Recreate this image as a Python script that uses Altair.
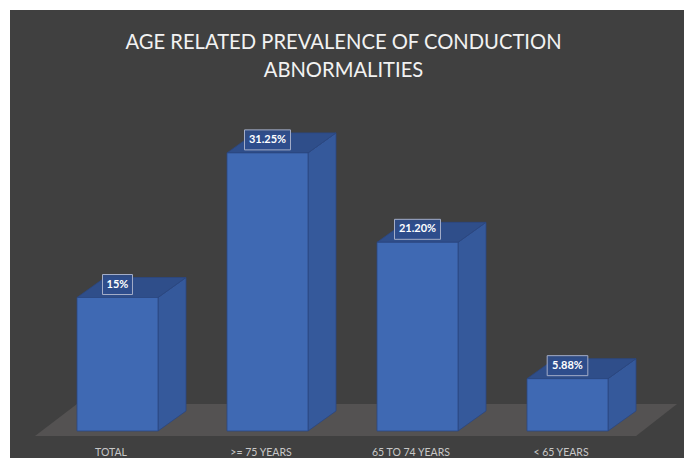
import altair as alt
import pandas as pd

# ---- data ----
categories = ["TOTAL", ">= 75 YEARS", "65 TO 74 YEARS", "< 65 YEARS"]
values = [15, 31.25, 21.20, 5.88]
value_labels = ["15%", "31.25%", "21.20%", "5.88%"]
title_lines = ["AGE RELATED PREVALENCE OF CONDUCTION", "ABNORMALITIES"]

# ---- 3D geometry constants ----
PX = 8.9          # pixels per y unit
BASE = 421        # view pixel row of value 0
VIEW_W = 674
VIEW_H = 448
HALF = 0.27       # half bar width (x units)
DX = 28 / 150     # depth offset, x units
DY = 20 / PX      # depth offset, y units
CAT_SHIFT = -6.5 / 150

idx = list(range(len(categories)))

bars = pd.DataFrame({"cat": categories, "idx": idx, "value": values, "label": value_labels})
bars["x0"] = bars["idx"] - HALF
bars["x1"] = bars["idx"] + HALF
bars["cx"] = bars["idx"] + CAT_SHIFT
bars["base"] = 0.0
bars["ly"] = bars["value"] + 13 / PX
bars["bw"] = (bars["label"].str.len() * 5.33 + 14) / 2 / 150
bars["bx0"] = bars["idx"] - bars["bw"]
bars["bx1"] = bars["idx"] + bars["bw"]
bars["by0"] = bars["ly"] - 10 / PX
bars["by1"] = bars["ly"] + 10 / PX

side_rows = []
top_rows = []
for c, i, v in zip(categories, idx, values):
    side_rows.append({"cat": c, "x": i + HALF, "lo": 0.0, "hi": v})
    side_rows.append({"cat": c, "x": i + HALF + DX, "lo": DY, "hi": v + DY})
    top_rows.append({"cat": c, "y": v, "xl": i - HALF, "xr": i + HALF})
    top_rows.append({"cat": c, "y": v + DY, "xl": i - HALF + DX, "xr": i + HALF + DX})
side = pd.DataFrame(side_rows)
top = pd.DataFrame(top_rows)

floor = pd.DataFrame({"y": [-5 / PX, 27 / PX], "xl": [-0.55, -0.27], "xr": [3.457, 3.73]})

xs = alt.Scale(domain=[-107.5 / 150, (VIEW_W - 107.5) / 150], nice=False, zero=False)
ys = alt.Scale(domain=[-(VIEW_H - BASE) / PX, BASE / PX], nice=False, zero=False)

FRONT = "#3f69b3"
SIDE = "#35599b"
TOP = "#2f4e8a"
EDGE = "#2b4680"

floor_l = alt.Chart(floor).mark_area(orient="horizontal", color="#545252").encode(
    y=alt.Y("y:Q", scale=ys, axis=None),
    x=alt.X("xl:Q", scale=xs, axis=None, stack=None),
    x2="xr:Q",
)

side_l = alt.Chart(side).mark_area(orient="vertical", color=SIDE, stroke=EDGE, strokeWidth=0.8).encode(
    x=alt.X("x:Q", scale=xs, axis=None),
    y=alt.Y("lo:Q", scale=ys, axis=None, stack=None),
    y2="hi:Q",
    detail="cat:N",
)

top_l = alt.Chart(top).mark_area(orient="horizontal", color=TOP, stroke=EDGE, strokeWidth=0.8).encode(
    y=alt.Y("y:Q", scale=ys, axis=None),
    x=alt.X("xl:Q", scale=xs, axis=None, stack=None),
    x2="xr:Q",
    detail="cat:N",
)

base = alt.Chart(bars)

front_l = base.mark_rect(color=FRONT, stroke=EDGE, strokeWidth=0.8).encode(
    x=alt.X("x0:Q", scale=xs, axis=None),
    x2="x1:Q",
    y=alt.Y("base:Q", scale=ys, axis=None),
    y2="value:Q",
)

box_l = base.mark_rect(fill="#2f4e8c", fillOpacity=0.9, stroke="#a3adc8", strokeWidth=1).encode(
    x=alt.X("bx0:Q", scale=xs, axis=None),
    x2="bx1:Q",
    y=alt.Y("by0:Q", scale=ys, axis=None),
    y2="by1:Q",
)

lbl_l = base.mark_text(font="Lato", fontSize=11, fontWeight="bold", color="#ffffff", baseline="middle").encode(
    x=alt.X("idx:Q", scale=xs, axis=None),
    y=alt.Y("ly:Q", scale=ys, axis=None),
    text="label:N",
)

cat_l = base.mark_text(font="Lato", fontSize=10.5, color="#c8c8c8", baseline="alphabetic").encode(
    x=alt.X("cx:Q", scale=xs, axis=None),
    y=alt.value(446),
    text="cat:N",
)

title_df = pd.DataFrame({"line": title_lines, "row": [0, 1]})
title_l = alt.Chart(title_df).mark_text(font="Lato", fontSize=20.2, color="#f2f2f2", baseline="alphabetic").encode(
    x=alt.value(333.5),
    y=alt.Y("row:Q", scale=alt.Scale(domain=[0, 1], range=[39, 67]), axis=None),
    text="line:N",
)

chart = alt.layer(floor_l, side_l, top_l, front_l, box_l, lbl_l, cat_l, title_l).resolve_scale(
    y="independent"
).properties(
    width=VIEW_W,
    height=VIEW_H,
    padding={"left": 2, "top": 2, "right": 0, "bottom": 0},
    autosize=alt.AutoSizeParams(type="none"),
    background="#ffffff",
).configure_view(fill="#404040", strokeWidth=0)

chart.save("out.html", embed_options={"renderer": "svg", "actions": False})
